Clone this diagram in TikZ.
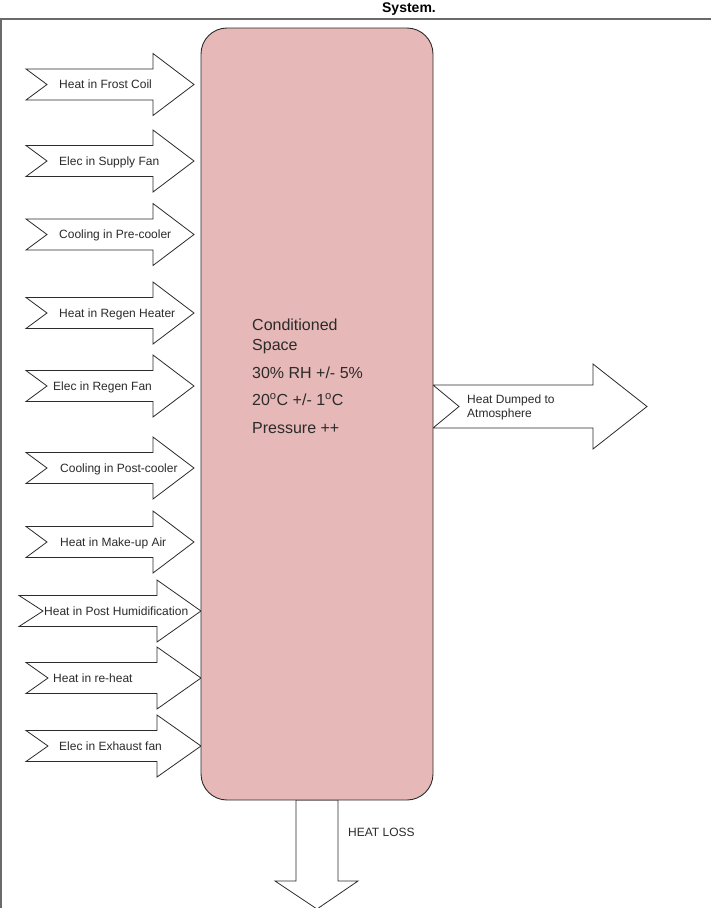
\documentclass[tikz,border=0pt]{standalone}
\usepackage{fontspec}
\setmainfont{Liberation Sans}
\usetikzlibrary{positioning}
\definecolor{hvpink}{HTML}{E6B8B7}
\definecolor{hvink}{HTML}{2B2B2B}
\definecolor{hvframe}{HTML}{6A6A6A}
\tikzset{
  spacebox/.style={draw=hvink, fill=hvpink, line width=0.9pt, rounded corners=26pt, inner sep=0pt},
  blockarr/.style={draw=hvink, fill=white, line width=0.8pt, line join=miter},
  lbl/.style={font=\fontsize{12}{14}\selectfont, text=hvink, inner sep=0pt, anchor=base west},
  big/.style={font=\fontsize{16}{20}\selectfont, text=hvink, inner sep=0pt, align=left},
}

\begin{document}
\begin{tikzpicture}[x=1pt, y=-1pt]
    \useasboundingbox (0,0) rectangle (711,908);
    \node[font=\bfseries\fontsize{14}{17}\selectfont, anchor=base, inner sep=0pt] (title) at (409,12) {System.};
    \draw[hvframe, line width=1.5pt] (1,912) -- (1,19) -- (715,19);
    \foreach \i/\y/\t/\n/\h/\p/\tx/\txt in {
        1/84.5/26/47/153/194/59/Heat in Frost Coil,
        2/161/26/47/153/194/59/Elec in Supply Fan,
        3/234.5/26/47/153/194/59/Cooling in Pre-cooler,
        4/313/26/47/153/194/59/Heat in Regen Heater,
        5/386/26/47/153/194/53/Elec in Regen Fan,
        6/468/26/47/153/194/60/Cooling in Post-cooler,
        7/542/26/47/153/194/60/Heat in Make-up Air,
        8/611/19/43/157/201/44/Heat in Post Humidification,
        9/678/26/48/157/201/53/Heat in re-heat,
        10/746/26/48/157/201/59/Elec in Exhaust fan} {
      \draw[blockarr] (\t,\y-15.5) -- (\h,\y-15.5) -- (\h,\y-31) -- (\p,\y) -- (\h,\y+31)
        -- (\h,\y+15.5) -- (\t,\y+15.5) -- (\n,\y) -- cycle;
      \node[lbl] (in\i) at (\tx,\y+4.3) {\txt};
    }
    \draw[blockarr] (433,385) -- (593,385) -- (593,364) -- (647,406.5) -- (593,449) -- (593,428)
      -- (433,428) -- (459,406.5) -- cycle;
    \draw[blockarr] (296,800) -- (296,881) -- (275,881) -- (317,909) -- (358,881) -- (338,881)
      -- (338,800) -- cycle;
    \node[spacebox, minimum width=232pt, minimum height=772pt] (room) at (317,414) {};
    \node[big, anchor=north west] (cond) at (252,318.5) {Conditioned\\Space\\[8pt]30\% RH +/- 5\%\\[7pt]20\textsuperscript{o}C +/- 1\textsuperscript{o}C\\[8pt]Pressure ++};
    \node[lbl, anchor=north west, align=left] (dump) at (467,394.5) {Heat Dumped to\\Atmosphere};
    \node[lbl] (loss) at (348,836.3) {HEAT LOSS};
\end{tikzpicture}
\end{document}
